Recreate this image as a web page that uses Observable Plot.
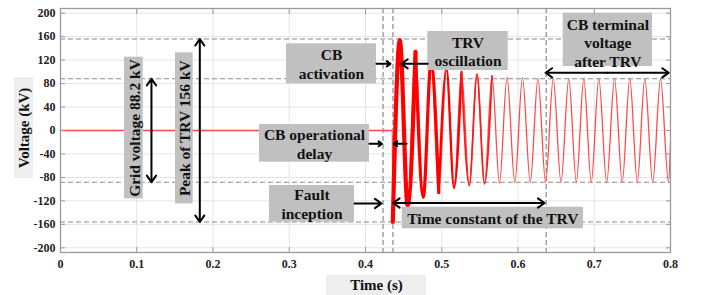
<!DOCTYPE html>
<html><head><meta charset="utf-8">
<script src="https://cdn.jsdelivr.net/npm/d3@7"></script>
<script src="https://cdn.jsdelivr.net/npm/@observablehq/plot@0.6"></script>
<style>body{margin:0;background:#fff} svg{display:block}</style>
</head><body><div id="chart"></div>
<script>
// ---- data ----
const xTicks = [0, 0.1, 0.2, 0.3, 0.4, 0.5, 0.6, 0.7, 0.8];
const yTicks = [-200, -160, -120, -80, -40, 0, 40, 80, 120, 160, 200];

// waveform extrema (s, kV)
const waveTime = [0, 0.4352, 0.4358, 0.4450, 0.4553, 0.4656, 0.4758, 0.4859, 0.4961, 0.5062,
  0.5161, 0.5259, 0.5361, 0.5462, 0.5561, 0.5659, 0.5757, 0.5856, 0.5958, 0.6059,
  0.6161, 0.6262, 0.6362, 0.6462, 0.6564, 0.6666, 0.6765, 0.6863, 0.6961, 0.7060,
  0.7163, 0.7266, 0.7367, 0.7466, 0.7565, 0.7663, 0.7767, 0.7869, 0.7974, 0.8];
const waveKV = [0, 0, -156, 154, -128, 134, -114, 117, -106, 106,
  -98, 100, -94, 96, -91, 93, -90, 91, -89, 90,
  -88.5, 89, -88.2, 88.5, -88.2, 88.2, -88.2, 88.2, -88.2, 88.2,
  -88.2, 88.2, -88.2, 88.2, -88.2, 88.2, -88.2, 88.2, -88.2, -20];

const gridVoltage = 88.2;
const trvPeak = 156;
const levels = [trvPeak, gridVoltage, -gridVoltage, -trvPeak];
const eventTimes = [0.423, 0.436, 0.637];

const wave = waveTime.map((t, i) => ({t, v: waveKV[i], i}));
const seg = (a, b) => wave.filter(d => d.i >= a && d.i <= b);

// annotations
const notes = [
  {text: "CB\nactivation", x: 0.3554, y: 113.7, x1: 0.2964, x2: 0.4144, y1: 79.6, y2: 147.8, r: 0},
  {text: "TRV\noscillation", x: 0.5344, y: 135.5, x1: 0.4817, x2: 0.5872, y1: 102.3, y2: 168.8, r: 0},
  {text: "CB terminal\nvoltage\nafter TRV", x: 0.7178, y: 150.6, x1: 0.6593, x2: 0.7764, y1: 109.1, y2: 200, r: 0},
  {text: "CB operational\ndelay", x: 0.3331, y: -21.9, x1: 0.261, x2: 0.4052, y1: -54, y2: 10.2, r: 0},
  {text: "Fault\ninception", x: 0.3298, y: -125, x1: 0.2741, x2: 0.3856, y1: -156.3, y2: -93.8, r: 0},
  {text: "Time constant of the TRV", x: 0.567, y: -149.2, x1: 0.4481, x2: 0.6859, y1: -167.6, y2: -130.8, r: 0},
  {text: "Grid voltage 88.2 kV", x: 0.0962, y: 4.3, x1: 0.0839, x2: 0.1085, y1: -116.5, y2: 125, r: -90},
  {text: "Peak of TRV 156 kV", x: 0.1624, y: 3.9, x1: 0.1508, x2: 0.174, y1: -125, y2: 132.5, r: -90}
];
const arrows = [
  {x1: 0.4144, y1: 113.7, x2: 0.4328, y2: 113.7},
  {x1: 0.4817, y1: 113.7, x2: 0.4468, y2: 113.7},
  {x1: 0.717, y1: 98.4, x2: 0.6361, y2: 98.4},
  {x1: 0.717, y1: 98.4, x2: 0.7978, y2: 98.4},
  {x1: 0.4052, y1: -22.7, x2: 0.4216, y2: -22.7},
  {x1: 0.4538, y1: -22.7, x2: 0.4371, y2: -22.7},
  {x1: 0.3856, y1: -124.5, x2: 0.421, y2: -124.5},
  {x1: 0.5355, y1: -123.6, x2: 0.4362, y2: -123.6},
  {x1: 0.5355, y1: -123.6, x2: 0.6348, y2: -123.6},
  {x1: 0.1193, y1: 0, x2: 0.1193, y2: gridVoltage},
  {x1: 0.1193, y1: 0, x2: 0.1193, y2: -gridVoltage},
  {x1: 0.1827, y1: 0, x2: 0.1827, y2: trvPeak},
  {x1: 0.1827, y1: 0, x2: 0.1827, y2: -trvPeak}
];
const axisTitles = [
  {text: "Voltage (kV)", x: -0.0472, y: 4.3, x1: -0.0603, x2: -0.0354, y1: -81.8, y2: 90.4, r: -90},
  {text: "Time (s)", x: 0.4144, y: -264, x1: 0.3489, x2: 0.48, y1: -281.3, y2: -247.2, r: 0}
];

const dash = {stroke: "#8a8a8a", strokeWidth: 1.2, strokeDasharray: "5,3"};
const fnt = {fontFamily: "Liberation Serif", fontWeight: "bold"};

const chart = Plot.plot({
  width: 702, height: 295,
  marginLeft: 60, marginRight: 32, marginTop: 8, marginBottom: 43,
  x: {domain: [0, 0.8]},
  y: {domain: [-208, 208]},
  style: {fontFamily: "Liberation Serif", fontSize: "12px", fontWeight: "bold", color: "#222", background: "#fff"},
  marks: [
    Plot.gridX(xTicks, {stroke: "#e4e4e4", strokeOpacity: 1}),
    Plot.gridY(yTicks, {stroke: "#e4e4e4", strokeOpacity: 1}),
    Plot.ruleY(levels, dash),
    Plot.ruleX(eventTimes, dash),
    Plot.line(wave, {x: "t", y: "v", curve: "monotone-x", stroke: "#ff4a4a", strokeWidth: 1.3}),
    Plot.line(seg(2, 5), {x: "t", y: "v", curve: "monotone-x", stroke: "#ff0000", strokeWidth: 4.2}),
    Plot.line(seg(5, 8), {x: "t", y: "v", curve: "monotone-x", stroke: "#ff0000", strokeWidth: 3.2}),
    Plot.line(seg(8, 11), {x: "t", y: "v", curve: "monotone-x", stroke: "#ff0000", strokeWidth: 2.3}),
    Plot.line(seg(11, 15), {x: "t", y: "v", curve: "monotone-x", stroke: "#ff1a1a", strokeWidth: 1.7}),
    Plot.rect(notes, {x1: "x1", x2: "x2", y1: "y1", y2: "y2", fill: "#c0c0c0"}),
    Plot.rect(axisTitles, {x1: "x1", x2: "x2", y1: "y1", y2: "y2", fill: "#eeeeee"}),
    Plot.arrow(arrows, {x1: "x1", y1: "y1", x2: "x2", y2: "y2", stroke: "#000", strokeWidth: 2, headLength: 6, headAngle: 70}),
    Plot.text(notes, {x: "x", y: "y", text: "text", rotate: "r", fontSize: 15.5, lineHeight: 1.2, fill: "#111", ...fnt}),
    Plot.text(axisTitles, {x: "x", y: "y", text: "text", rotate: "r", fontSize: 15, fill: "#111", ...fnt}),
    Plot.frame({stroke: "#9a9a9a", strokeWidth: 1.3}),
    Plot.axisX({ticks: xTicks, anchor: "bottom", tickSize: -5, tickPadding: 12, tickFormat: d => String(d), label: null, stroke: "#9a9a9a", fill: "#222"}),
    Plot.axisX({ticks: xTicks, anchor: "top", tickSize: -5, tickFormat: () => "", label: null, stroke: "#9a9a9a"}),
    Plot.axisY({ticks: yTicks, anchor: "left", tickSize: -5, tickPadding: 10, tickFormat: d => String(d), label: null, stroke: "#9a9a9a", fill: "#222"}),
    Plot.axisY({ticks: yTicks, anchor: "right", tickSize: -5, tickFormat: () => "", label: null, stroke: "#9a9a9a"})
  ]
});
document.getElementById("chart").appendChild(chart);
</script>
</body></html>
